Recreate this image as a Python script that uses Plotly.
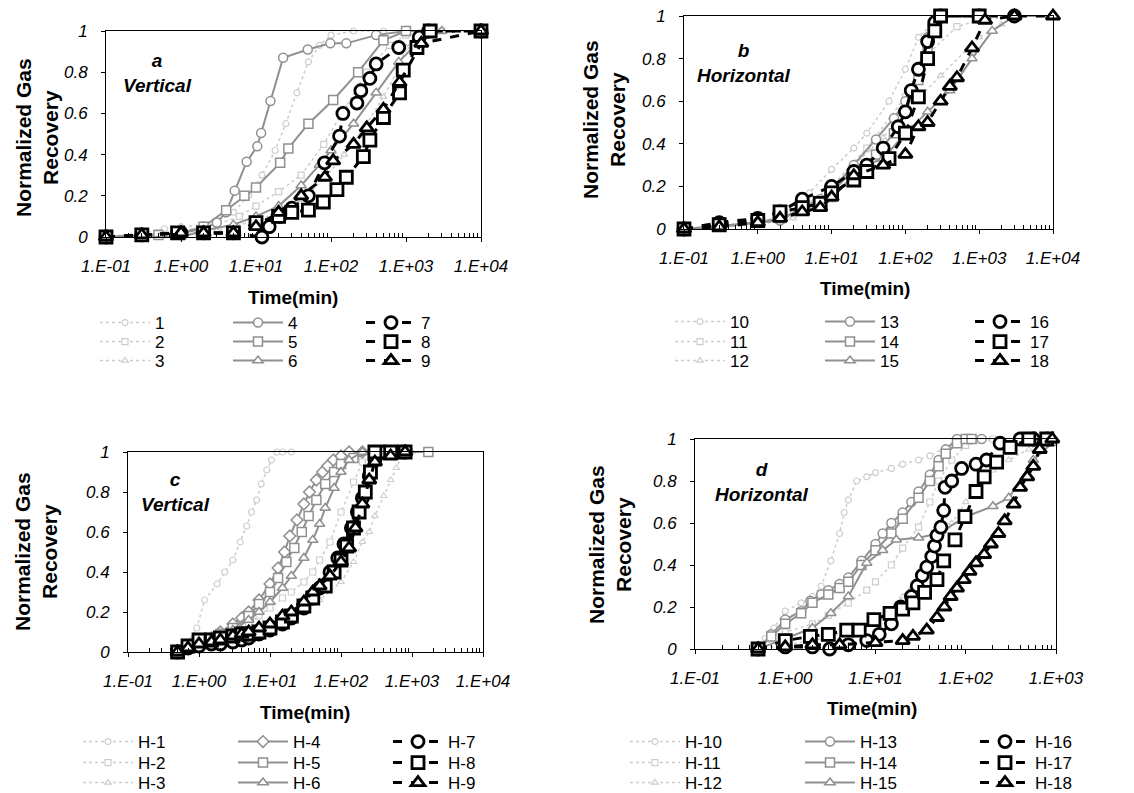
import plotly.graph_objects as go

W, H = 1134, 793

# ---------------- Panel a (Vertical, runs 1-9) ----------------
a1_t = [0.1, 0.3, 0.6, 1, 2, 3, 5, 8, 12, 18, 25, 35, 50, 70, 100, 200, 500]
a1_r = [0, 0.02, 0.04, 0.05, 0.06, 0.08, 0.12, 0.2, 0.3, 0.42, 0.55, 0.7, 0.85, 0.93, 0.98, 1, 1]
a2_t = [0.1, 0.5, 1, 3, 6, 10, 20, 40, 80, 150, 300, 600, 1000, 3000]
a2_r = [0, 0.02, 0.03, 0.06, 0.1, 0.15, 0.22, 0.3, 0.45, 0.62, 0.8, 0.93, 0.98, 1]
a3_t = [0.1, 1, 3, 10, 20, 40, 80, 150, 300, 500, 800, 1000, 1500, 3000, 10000]
a3_r = [0, 0.01, 0.03, 0.08, 0.12, 0.18, 0.28, 0.4, 0.55, 0.68, 0.82, 0.92, 0.98, 1, 1]
a4_t = [0.1, 0.3, 1, 2, 3, 4, 5.2, 7.5, 10.4, 11.7, 15.6, 23, 49, 98, 160, 400, 1000]
a4_r = [0, 0.01, 0.02, 0.04, 0.07, 0.12, 0.225, 0.365, 0.44, 0.505, 0.66, 0.87, 0.91, 0.94, 0.94, 0.98, 1]
a5_t = [0.1, 0.5, 1, 2, 4, 7, 10, 21, 27, 50, 107, 230, 500, 1000, 2000]
a5_r = [0, 0.01, 0.02, 0.05, 0.13, 0.2, 0.24, 0.36, 0.43, 0.55, 0.665, 0.8, 0.955, 1, 1]
a6_t = [0.1, 1, 2, 5, 10, 20, 40, 70, 100, 200, 400, 800, 1500, 3000]
a6_r = [0, 0.0, 0.03, 0.06, 0.1, 0.15, 0.25, 0.35, 0.42, 0.55, 0.7, 0.85, 0.95, 1]
a7_t = [0.1, 0.3, 1, 2, 5, 12, 15, 21, 30, 50, 82, 130, 144, 222, 250, 330, 400, 800, 1500, 2000, 10000]
a7_r = [0, 0.01, 0.02, 0.02, 0.02, 0.0, 0.05, 0.1, 0.14, 0.2, 0.36, 0.49, 0.6, 0.65, 0.71, 0.77, 0.84, 0.92, 0.97, 1, 1]
a8_t = [0.1, 0.3, 0.9, 2, 5, 10, 20, 30, 50, 79, 120, 160, 270, 330, 500, 820, 920, 1400, 2100, 10000]
a8_r = [0, 0.01, 0.02, 0.02, 0.02, 0.07, 0.1, 0.12, 0.13, 0.17, 0.23, 0.29, 0.39, 0.47, 0.58, 0.7, 0.81, 0.92, 1, 1]
a9_t = [0.1, 0.3, 1, 2, 5, 10, 20, 40, 83, 107, 200, 300, 500, 820, 1600, 10000]
a9_r = [0, 0.01, 0.02, 0.02, 0.02, 0.05, 0.12, 0.2, 0.29, 0.37, 0.45, 0.53, 0.62, 0.75, 0.94, 1]

# ---------------- Panel b (Horizontal, runs 10-18) ----------------
b10_t = [0.1, 0.3, 1, 2, 3, 5, 10, 20, 30, 60, 100, 150, 300, 1000]
b10_r = [0, 0.02, 0.03, 0.06, 0.1, 0.17, 0.28, 0.38, 0.45, 0.6, 0.75, 0.9, 1, 1]
b11_t = [0.1, 1, 3, 10, 30, 100, 200, 500, 1000, 3000, 10000]
b11_r = [0, 0.02, 0.07, 0.2, 0.38, 0.62, 0.82, 0.95, 0.98, 1, 1]
b12_t = [0.1, 1, 3, 5, 10, 20, 50, 100, 300, 1000, 2000, 3000, 10000]
b12_r = [0, 0.02, 0.05, 0.1, 0.17, 0.3, 0.43, 0.55, 0.72, 0.9, 0.96, 1, 1]
b13_t = [0.1, 0.3, 1, 2, 4, 7, 10, 20, 40, 70, 100, 150, 200, 250, 300, 1000]
b13_r = [0, 0.01, 0.03, 0.04, 0.1, 0.14, 0.18, 0.3, 0.42, 0.52, 0.6, 0.75, 0.9, 0.98, 1, 1]
b14_t = [0.1, 0.3, 1, 2, 4, 7, 10, 20, 40, 70, 100, 150, 200, 250, 300]
b14_r = [0, 0.01, 0.03, 0.05, 0.09, 0.12, 0.15, 0.25, 0.35, 0.45, 0.55, 0.7, 0.85, 0.95, 1]
b15_t = [0.1, 1, 2, 5, 10, 20, 50, 100, 200, 400, 800, 1500, 3000, 10000]
b15_r = [0, 0.03, 0.05, 0.1, 0.17, 0.28, 0.33, 0.45, 0.55, 0.65, 0.8, 0.93, 1, 1]
b16_t = [0.1, 0.3, 1, 2, 4, 10, 20, 30, 50, 80, 100, 120, 150, 200, 250, 300, 1000, 3000]
b16_r = [0, 0.03, 0.05, 0.08, 0.14, 0.2, 0.27, 0.3, 0.38, 0.48, 0.55, 0.65, 0.75, 0.88, 0.97, 1, 1, 1]
b17_t = [0.1, 0.3, 1, 2, 4, 7, 10, 20, 30, 60, 100, 150, 200, 250, 300, 1000]
b17_r = [0, 0.02, 0.04, 0.08, 0.1, 0.12, 0.17, 0.23, 0.27, 0.33, 0.45, 0.62, 0.8, 0.93, 1, 1]
b18_t = [0.1, 0.3, 1, 2, 4, 7, 10, 20, 50, 100, 150, 200, 300, 400, 500, 800, 1200, 3000, 10000]
b18_r = [0, 0.01, 0.03, 0.05, 0.08, 0.1, 0.15, 0.25, 0.3, 0.35, 0.48, 0.5, 0.6, 0.67, 0.71, 0.85, 0.98, 1, 1]

# ---------------- Panel c (Vertical, H-1 .. H-9) ----------------
c1_t = [0.5, 0.7, 0.93, 1.2, 1.8, 2.3, 3.0, 3.8, 4.7, 5.5, 6.5, 7.5, 9, 10.5, 12.5, 15, 20]
c1_r = [0, 0.05, 0.12, 0.26, 0.34, 0.4, 0.46, 0.55, 0.63, 0.7, 0.76, 0.84, 0.91, 0.96, 1, 1, 1]
c2_t = [0.5, 0.7, 1, 1.5, 2, 3, 5, 7, 10, 15, 20, 30, 40, 50, 70, 100, 150, 200, 300]
c2_r = [0, 0.02, 0.04, 0.06, 0.08, 0.1, 0.14, 0.18, 0.22, 0.27, 0.3, 0.35, 0.4, 0.46, 0.55, 0.7, 0.85, 0.95, 1]
c3_t = [0.5, 1, 2, 3, 5, 10, 20, 30, 50, 100, 150, 200, 250, 300, 400, 500, 600, 700, 1000]
c3_r = [0, 0.03, 0.05, 0.06, 0.08, 0.12, 0.17, 0.2, 0.26, 0.35, 0.45, 0.55, 0.6, 0.68, 0.78, 0.86, 0.92, 0.97, 1]
c4_t = [0.5, 0.7, 1, 1.5, 2, 3, 4, 5, 7, 10, 13, 16, 19, 24, 30, 36, 45, 55, 65, 78, 100, 130, 200]
c4_r = [0, 0.03, 0.05, 0.07, 0.1, 0.14, 0.17, 0.2, 0.26, 0.34, 0.42, 0.5, 0.58, 0.66, 0.74, 0.8, 0.86, 0.9, 0.93, 0.96, 0.98, 1, 1]
c5_t = [0.5, 0.7, 1, 1.5, 2, 3, 5, 7, 10, 13, 17, 22, 28, 35, 45, 60, 80, 100, 150, 300, 1700]
c5_r = [0, 0.03, 0.05, 0.07, 0.09, 0.12, 0.18, 0.24, 0.3, 0.37, 0.45, 0.52, 0.6, 0.68, 0.76, 0.84, 0.9, 0.94, 0.97, 1, 1]
c6_t = [0.5, 0.7, 1, 1.5, 2, 3, 5, 7, 10, 15, 20, 30, 40, 50, 60, 80, 100, 130, 200]
c6_r = [0, 0.02, 0.04, 0.06, 0.08, 0.11, 0.16, 0.2, 0.25, 0.32, 0.38, 0.47, 0.56, 0.64, 0.72, 0.82, 0.9, 0.96, 1]
c7_t = [0.5, 0.7, 1, 1.5, 2, 3, 4, 5, 7, 10, 15, 20, 30, 40, 50, 70, 90, 110, 140, 170, 200, 250, 300, 400, 800]
c7_r = [0, 0.02, 0.03, 0.04, 0.04, 0.05, 0.06, 0.07, 0.09, 0.11, 0.14, 0.17, 0.22, 0.27, 0.32, 0.4, 0.47, 0.54, 0.62, 0.7, 0.77, 0.88, 0.96, 1, 1]
c8_t = [0.5, 0.7, 1, 1.5, 2, 3, 4, 5, 7, 10, 15, 20, 30, 40, 60, 80, 100, 120, 150, 180, 220, 260, 300, 500, 800]
c8_r = [0, 0.03, 0.06, 0.06, 0.07, 0.08, 0.09, 0.09, 0.1, 0.12, 0.15, 0.18, 0.23, 0.27, 0.33, 0.4, 0.46, 0.53, 0.62, 0.7, 0.8, 0.9, 1, 1, 1]
c9_t = [0.5, 0.7, 1, 1.5, 2, 3, 4, 5, 7, 10, 15, 20, 30, 40, 50, 70, 100, 130, 160, 200, 250, 300, 500, 800]
c9_r = [0, 0.02, 0.04, 0.05, 0.06, 0.08, 0.09, 0.1, 0.12, 0.14, 0.18, 0.2, 0.25, 0.3, 0.33, 0.38, 0.45, 0.52, 0.62, 0.74, 0.86, 0.95, 0.98, 1]

# ---------------- Panel d (Horizontal, H-10 .. H-18) ----------------
d10_t = [0.5, 0.6, 0.75, 1, 1.5, 2, 2.5, 3.2, 4, 4.5, 5, 6.2, 8, 10, 15, 20, 30, 40, 60, 80, 100]
d10_r = [0, 0.05, 0.1, 0.18, 0.22, 0.25, 0.3, 0.42, 0.55, 0.65, 0.71, 0.8, 0.82, 0.84, 0.86, 0.88, 0.9, 0.92, 0.96, 0.98, 1]
d11_t = [0.5, 1, 2, 3, 5, 8, 10, 15, 20, 30, 40, 50, 70, 100, 200]
d11_r = [0, 0.08, 0.12, 0.16, 0.22, 0.28, 0.32, 0.4, 0.48, 0.58, 0.7, 0.8, 0.9, 0.97, 1]
d12_t = [0.5, 1, 2, 5, 10, 15, 20, 30, 50, 70, 100, 150, 200, 300, 500, 800]
d12_r = [0, 0.02, 0.04, 0.08, 0.12, 0.18, 0.25, 0.35, 0.5, 0.6, 0.7, 0.8, 0.85, 0.9, 0.95, 1]
d13_t = [0.5, 0.7, 1, 1.5, 1.9, 2.5, 3, 4, 5, 7, 10, 12, 15, 20, 25, 30, 40, 50, 60, 80, 150]
d13_r = [0, 0.07, 0.14, 0.18, 0.23, 0.26, 0.28, 0.31, 0.34, 0.42, 0.5, 0.55, 0.6, 0.65, 0.7, 0.75, 0.83, 0.9, 0.95, 1, 1]
d14_t = [0.5, 0.7, 1, 1.5, 2, 3, 4, 5, 7, 10, 15, 20, 30, 40, 50, 60, 80, 100, 116]
d14_r = [0, 0.06, 0.12, 0.17, 0.22, 0.26, 0.29, 0.32, 0.4, 0.47, 0.55, 0.62, 0.72, 0.8, 0.87, 0.93, 0.98, 1, 1]
d15_t = [0.5, 1, 2, 3.2, 5, 8, 12, 17, 30, 50, 100, 200, 300, 560, 900]
d15_r = [0, 0.05, 0.1, 0.17, 0.25, 0.41, 0.47, 0.52, 0.53, 0.55, 0.63, 0.68, 0.72, 0.9, 0.98]
d16_t = [0.5, 1, 2, 3.1, 5, 8, 11, 15, 19, 25, 29, 33, 37, 42, 45, 48, 53, 57, 59, 70, 90, 130, 170, 240, 400, 560, 800]
d16_r = [0, 0.01, 0.01, 0.0, 0.02, 0.04, 0.07, 0.12, 0.2, 0.25, 0.3, 0.35, 0.39, 0.44, 0.49, 0.54, 0.58, 0.66, 0.77, 0.8, 0.86, 0.88, 0.9, 0.98, 1, 1, 1]
d17_t = [0.5, 1, 1.9, 3, 4.8, 6.6, 9.6, 14.5, 20, 26, 35, 48, 57, 76, 98, 130, 160, 220, 310, 500, 790]
d17_r = [0, 0.04, 0.06, 0.07, 0.09, 0.09, 0.14, 0.17, 0.19, 0.22, 0.27, 0.33, 0.42, 0.52, 0.63, 0.75, 0.82, 0.89, 0.96, 1, 1]
d18_t = [0.5, 1, 2, 4, 10, 20, 26, 37, 48, 58, 68, 80, 95, 110, 130, 160, 190, 230, 270, 340, 400, 480, 560, 660, 910]
d18_r = [0, 0.01, 0.02, 0.02, 0.03, 0.04, 0.06, 0.09, 0.15, 0.2, 0.25, 0.29, 0.33, 0.37, 0.41, 0.45, 0.5, 0.55, 0.61, 0.69, 0.77, 0.82, 0.87, 0.95, 1]

names_a = ["1", "2", "3", "4", "5", "6", "7", "8", "9"]
names_b = ["10", "11", "12", "13", "14", "15", "16", "17", "18"]
names_c = ["H-1", "H-2", "H-3", "H-4", "H-5", "H-6", "H-7", "H-8", "H-9"]
names_d = ["H-10", "H-11", "H-12", "H-13", "H-14", "H-15", "H-16", "H-17", "H-18"]

xtick_vals_4 = [0.1, 1, 10, 100, 1000, 10000]
xtick_text_4 = ["1.E-01", "1.E+00", "1.E+01", "1.E+02", "1.E+03", "1.E+04"]
xtick_vals_3 = [0.1, 1, 10, 100, 1000]
xtick_text_3 = ["1.E-01", "1.E+00", "1.E+01", "1.E+02", "1.E+03"]
ytick_vals = [0, 0.2, 0.4, 0.6, 0.8, 1]
ytick_text = ["0", "0.2", "0.4", "0.6", "0.8", "1"]

FONT = "Liberation Sans"
LIGHT = "#cdcdcd"
GRAY = "#909090"
BLACK = "#000000"


def px_x(p):
    return p / W


def px_y(p):
    return 1 - p / H


def minor_vals(decades):
    return [m * 10.0 ** k for k in range(-1, decades - 1) for m in range(2, 10)]


panels = [
    dict(series=[(a1_t, a1_r), (a2_t, a2_r), (a3_t, a3_r), (a4_t, a4_r), (a5_t, a5_r),
                 (a6_t, a6_r), (a7_t, a7_r), (a8_t, a8_r), (a9_t, a9_r)],
         names=names_a, box=(106, 481, 31, 237), xr=[-1, 4], nd=5, tv=xtick_vals_4, tt=xtick_text_4,
         label=("a<br>Vertical", 157, 73), ytitle=(37, 138), xtitle=(293, 298),
         legx=95, legw=128, legy=[323, 342, 361], sym4="circle"),
    dict(series=[(b10_t, b10_r), (b11_t, b11_r), (b12_t, b12_r), (b13_t, b13_r), (b14_t, b14_r),
                 (b15_t, b15_r), (b16_t, b16_r), (b17_t, b17_r), (b18_t, b18_r)],
         names=names_b, box=(684, 1053, 16, 229), xr=[-1, 4], nd=5, tv=xtick_vals_4, tt=xtick_text_4,
         label=("b<br>Horizontal", 744, 63), ytitle=(604, 120), xtitle=(865, 288),
         legx=670, legw=145, legy=[322, 342, 361], sym4="circle"),
    dict(series=[(c1_t, c1_r), (c2_t, c2_r), (c3_t, c3_r), (c4_t, c4_r), (c5_t, c5_r),
                 (c6_t, c6_r), (c7_t, c7_r), (c8_t, c8_r), (c9_t, c9_r)],
         names=names_c, box=(128, 483, 452, 652), xr=[-1, 4], nd=5, tv=xtick_vals_4, tt=xtick_text_4,
         label=("c<br>Vertical", 175, 492), ytitle=(36, 552), xtitle=(305, 712),
         legx=78, legw=150, legy=[742, 763, 783], sym4="diamond"),
    dict(series=[(d10_t, d10_r), (d11_t, d11_r), (d12_t, d12_r), (d13_t, d13_r), (d14_t, d14_r),
                 (d15_t, d15_r), (d16_t, d16_r), (d17_t, d17_r), (d18_t, d18_r)],
         names=names_d, box=(695, 1056, 439, 649), xr=[-1, 3], nd=4, tv=xtick_vals_3, tt=xtick_text_3,
         label=("d<br>Horizontal", 762, 482), ytitle=(610, 545), xtitle=(872, 708),
         legx=625, legw=170, legy=[742, 763, 783], sym4="circle"),
]

fig = go.Figure()
layout = dict(width=W, height=H, margin=dict(l=0, r=0, t=0, b=0, autoexpand=False),
              paper_bgcolor="white", plot_bgcolor="white",
              font=dict(family=FONT, color="black"), annotations=[])

legend_counter = 0
for pi, p in enumerate(panels):
    ax = "" if pi == 0 else str(pi + 1)
    x0, x1, y0, y1 = p["box"]
    xa = dict(domain=[px_x(x0), px_x(x1)], type="log", range=p["xr"], anchor="y" + ax,
              tickvals=p["tv"], ticktext=p["tt"], showgrid=False, zeroline=False,
              showline=True, linecolor="black", linewidth=1, mirror=True,
              ticks="outside", ticklen=4, tickcolor="black", ticklabelstandoff=10,
              tickfont=dict(family=FONT, size=17, style="italic"),
              minor=dict(tickvals=minor_vals(p["nd"]), ticks="inside", ticklen=4,
                         tickcolor="black", showgrid=False))
    ya = dict(domain=[px_y(y1), px_y(y0)], range=[0, 1], anchor="x" + ax,
              tickvals=ytick_vals, ticktext=ytick_text, showgrid=False, zeroline=False,
              showline=True, linecolor="black", linewidth=1, mirror=True,
              ticks="outside", ticklen=4, tickcolor="black", ticklabelstandoff=10,
              tickfont=dict(family=FONT, size=17, style="italic"))
    layout["xaxis" + ax] = xa
    layout["yaxis" + ax] = ya

    leg_ids = []
    for r in range(3):
        legend_counter += 1
        lid = "legend" if legend_counter == 1 else "legend%d" % legend_counter
        leg_ids.append(lid)
        layout[lid] = dict(orientation="h", x=px_x(p["legx"]), y=px_y(p["legy"][r]),
                           xanchor="left", yanchor="middle", bgcolor="rgba(0,0,0,0)",
                           font=dict(family=FONT, size=17), itemwidth=50,
                           entrywidth=p["legw"] - 60, entrywidthmode="pixels",
                           itemclick=False, itemdoubleclick=False)

    syms = ["circle", "square", "triangle-up"]
    for k in range(9):
        g, s = divmod(k, 3)
        t, rvals = p["series"][k]
        sym = syms[s]
        if g == 1 and s == 0:
            sym = p["sym4"]
        if g == 0:
            line = dict(color=LIGHT, width=1.5, dash="dot")
            marker = dict(symbol=sym, size=6, color="white", line=dict(color=LIGHT, width=1.2))
        elif g == 1:
            line = dict(color=GRAY, width=2)
            marker = dict(symbol=sym, size=9, color="white", line=dict(color=GRAY, width=1.5))
        else:
            line = dict(color=BLACK, width=3, dash="dash")
            marker = dict(symbol=sym, size=12, color="white", line=dict(color=BLACK, width=2.8))
        fig.add_trace(go.Scatter(x=t, y=rvals, mode="lines+markers", name=p["names"][k],
                                 line=line, marker=marker, cliponaxis=False,
                                 xaxis="x" + ax, yaxis="y" + ax, legend=leg_ids[s]))

    txt, lx, ly = p["label"]
    layout["annotations"].append(dict(text="<b><i>" + txt + "</i></b>", x=px_x(lx), y=px_y(ly),
                                      xref="paper", yref="paper", xanchor="center", yanchor="middle",
                                      showarrow=False, align="center",
                                      font=dict(family=FONT, size=19)))
    tx, ty = p["ytitle"]
    layout["annotations"].append(dict(text="<b>Normalized Gas<br>Recovery</b>", x=px_x(tx), y=px_y(ty),
                                      xref="paper", yref="paper", xanchor="center", yanchor="middle",
                                      showarrow=False, textangle=-90,
                                      align="center", font=dict(family=FONT, size=21)))
    tx, ty = p["xtitle"]
    layout["annotations"].append(dict(text="<b>Time(min)</b>", x=px_x(tx), y=px_y(ty),
                                      xref="paper", yref="paper", xanchor="center", yanchor="middle",
                                      showarrow=False, font=dict(family=FONT, size=19)))

fig.update_layout(**layout)
fig.write_html("out.html")
